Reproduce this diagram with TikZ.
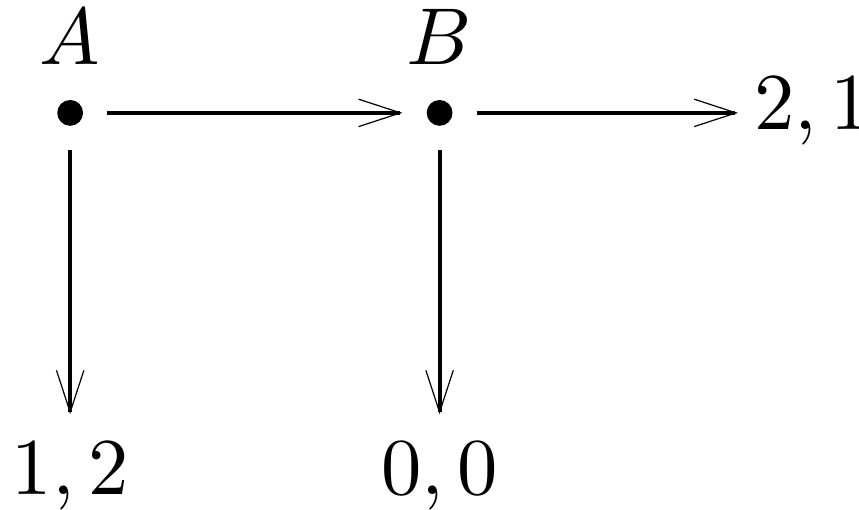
\documentclass[tikz,border=0pt]{standalone}
\usetikzlibrary{arrows.meta,positioning}
\begin{document}
\begin{tikzpicture}[
 >={Straight Barb[length=5.2pt,width=3.4pt,line width=0.15pt]},
 dot/.style={circle,fill,inner sep=0pt,minimum size=3.2pt,outer sep=3pt},
 payoff/.style={inner sep=3.3pt},
 move/.style={->,line width=0.5pt}
]
\useasboundingbox (-8.7pt,-49.2pt) rectangle (97.8pt,14pt);
\node[dot] (A) at (0,0) {};
\node[dot] (B) at (45.8pt,0) {};
\node[anchor=base] (nameA) at ([yshift=6pt]A.center) {$A$};
\node[anchor=base] (nameB) at ([yshift=6pt]B.center) {$B$};
\node[payoff,anchor=base] (stopA) at ([yshift=-47.3pt]A.center) {$1,2$};
\node[payoff,anchor=base] (stopB) at ([yshift=-47.3pt]B.center) {$0,0$};
\node[payoff,inner xsep=1.8pt,anchor=base west] (goB) at (82.8pt,-2.1pt) {$2,1$};
\draw[move] (A) -- (B);
\draw[move] (B) -- (B -| goB.west);
\draw[move] (A) -- (A |- stopA.north);
\draw[move] (B) -- (B |- stopB.north);
\end{tikzpicture}
\end{document}
